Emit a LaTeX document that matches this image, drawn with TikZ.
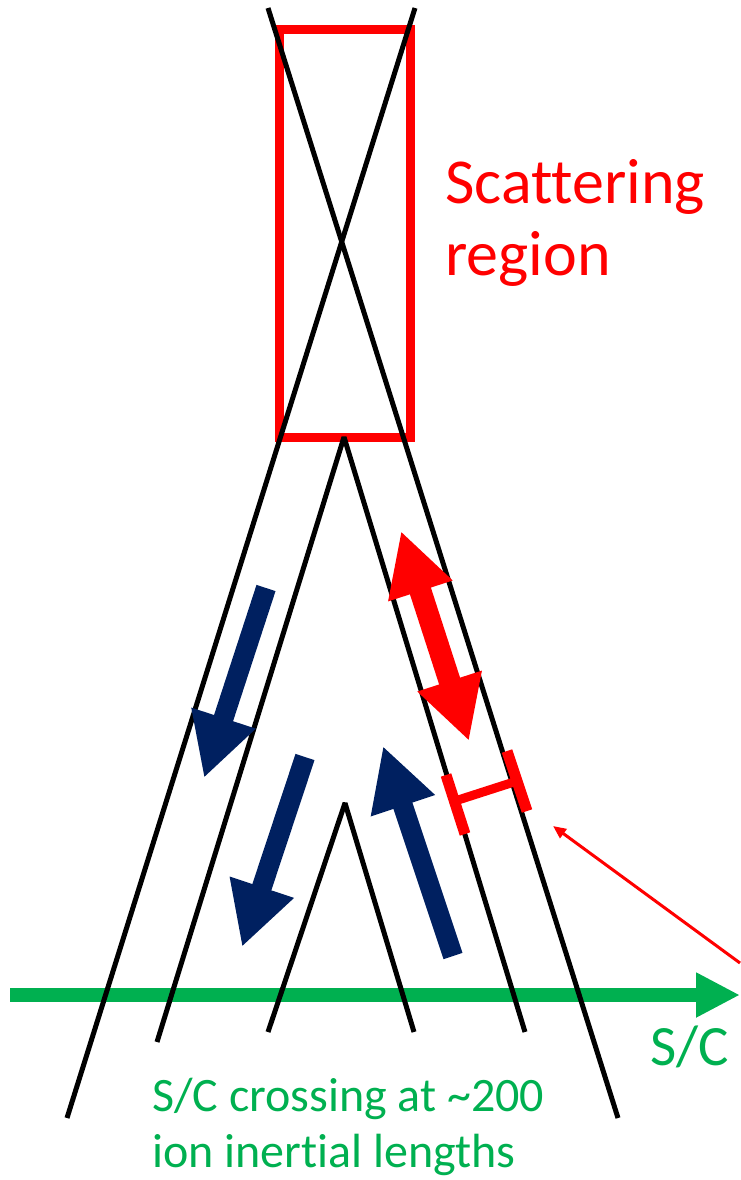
\documentclass[tikz,border=0pt]{standalone}
\usepackage{fontspec}
\setmainfont{Carlito}[Ligatures=NoCommon]
\usetikzlibrary{arrows.meta}
\definecolor{scRed}{HTML}{FF0000}
\definecolor{scNavy}{HTML}{002060}
\definecolor{scGreen}{HTML}{00B050}
\tikzset{
  fieldline/.style={line width=5pt, black, line join=bevel},
  region/.style={draw=scRed, line width=9pt},
  flowarrow/.style={-{Triangle[width=63pt, length=63pt]}, line width=20pt, scNavy},
  jetarrow/.style={{Triangle[width=63pt, length=63pt]}-{Triangle[width=63pt, length=63pt]}, line width=22pt, scRed},
  widthbar/.style={line width=11pt, scRed},
  pointer/.style={-{Triangle[width=11pt, length=13pt]}, line width=3pt, scRed},
  scpath/.style={-{Triangle[width=42pt, length=44pt]}, line width=14pt, scGreen},
  redlabel/.style={text=scRed, font=\fontsize{64}{72}\selectfont, align=left, inner sep=0pt},
  greenlabel/.style={text=scGreen, font=\fontsize{48}{56}\selectfont, align=left, inner sep=0pt}
}

\begin{document}
\begin{tikzpicture}[x=1pt, y=-1pt]
  \useasboundingbox (0,0) rectangle (740,1180);
  % spacecraft track
  \coordinate (scstart) at (10,995);
  \coordinate (scend) at (740,995);
  \draw[scpath] (scstart) -- (scend);
  % scattering region
  \draw[region] (279.5,30) rectangle (410,437);
  % field lines
  \coordinate (xa) at (268,8);   \coordinate (xb) at (618,1118);
  \coordinate (xc) at (415,8);   \coordinate (xd) at (67,1118);
  \coordinate (vtop) at (344,437);
  \coordinate (vl) at (157,1042); \coordinate (vr) at (525,1032);
  \coordinate (wtop) at (345,803);
  \coordinate (wl) at (268,1032); \coordinate (wr) at (414,1032);
  \draw[fieldline] (xa) -- (xb);
  \draw[fieldline] (xc) -- (xd);
  \draw[fieldline] (vl) -- (vtop) -- (vr);
  \draw[fieldline] (wl) -- (wtop) -- (wr);
  % flows
  \draw[flowarrow] (266,588) -- (204,778);
  \draw[flowarrow] (305,757) -- (242,947);
  \draw[flowarrow] (453,956) -- (383,746);
  \draw[jetarrow] (401,531) -- (469,741);
  % jet width
  \coordinate (bl) at (455,801); \coordinate (br) at (514,782);
  \draw[widthbar] (446,775) -- (465,834);
  \draw[widthbar] (507,751) -- (527,811);
  \draw[widthbar, line width=9pt] (bl) -- (br);
  \coordinate (ptail) at (740,963);
  \coordinate (phead) at (553,826);
  \draw[pointer] (ptail) -- (phead);
  % labels
  \node[redlabel, anchor=base west] (scat) at (445,275) {Scattering\\region};
  \node[greenlabel, font=\fontsize{57}{64}\selectfont, anchor=base west] (sc) at (650,1065) {S/C};
  \node[greenlabel, anchor=base west] (cross) at (152,1167) {S/C crossing at \textasciitilde200\\ion inertial lengths};
\end{tikzpicture}
\end{document}
